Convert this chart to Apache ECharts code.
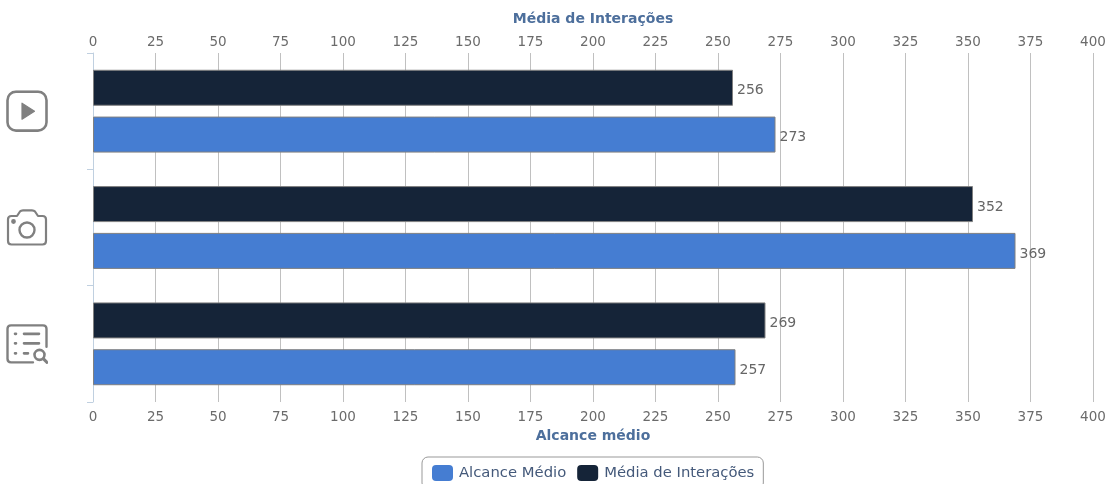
<!DOCTYPE html>
<html>
<head>
<meta charset="utf-8">
<style>html,body{margin:0;padding:0;background:#fff;overflow:hidden}#c{width:1111px;height:484px}</style>
<script src="https://cdn.jsdelivr.net/npm/echarts@6/dist/echarts.min.js"></script>
</head>
<body>
<div id="c"></div>
<script>
const categories = ['Lista', 'Foto', 'Vídeo'];
const alcance = [257, 369, 273];
const interacoes = [269, 352, 256];
const alcanceName = 'Alcance Médio';
const interacoesName = 'Média de Interações';
const topAxisName = 'Média de Interações';
const bottomAxisName = 'Alcance médio';

const svg = s => 'data:image/svg+xml;charset=utf-8,' + encodeURIComponent(
  '<svg xmlns="http://www.w3.org/2000/svg" width="126" height="126" viewBox="0 0 42 42"><g fill="none" stroke="#808080" stroke-width="2.2" stroke-linecap="round" stroke-linejoin="round">' + s + '</g></svg>');
const icons = {
  'Vídeo': svg('<rect x="1.5" y="1.5" width="39" height="39" rx="8.5" stroke-width="2.6"/><path d="M16 13 L28.5 21 L16 29 Z" fill="#808080" stroke-width="1.2"/>'),
  'Foto': svg('<path d="M2 13 Q2 9.5 5.5 9.5 H11 L14 5 Q15 3.8 17 3.8 H26 Q28 3.8 29 5 L32 9.5 H36.5 Q40 9.5 40 13 V34.5 Q40 38 36.5 38 H5.5 Q2 38 2 34.5 Z"/><circle cx="21" cy="23.5" r="7.5" stroke-width="2.4"/><circle cx="7.5" cy="15" r="1.3" fill="#808080"/>'),
  'Lista': svg('<path d="M27 39.5 H5 Q1.5 39.5 1.5 36 V6 Q1.5 2.5 5 2.5 H37 Q40.5 2.5 40.5 6 V24" stroke-width="2.4"/><path d="M18 11 H33 M18 20.5 H33 M18 30.5 H22" stroke-width="2.6"/><path d="M9 11 H10 M9 20.5 H10 M9 30.5 H10" stroke-width="2.6"/><circle cx="33.5" cy="32" r="5" stroke-width="2.6"/><path d="M37.5 36 L41 39.5" stroke-width="3"/>')
};
const rich = {};
categories.forEach((c, i) => {
  rich['i' + i] = { width: 42, height: 42, backgroundColor: { image: icons[c] } };
});

const font = '"DejaVu Sans", sans-serif';
const valueAxis = (position, name, nameGap, labelMargin) => ({
  type: 'value', position, name, nameLocation: 'middle', nameGap,
  min: 0, max: 400, interval: 25,
  nameTextStyle: { color: '#4d6f9c', fontSize: 14, fontWeight: 'bold', fontFamily: font },
  axisLine: { show: false }, axisTick: { show: false },
  axisLabel: { color: '#6b6b6b', fontSize: 13.5, fontFamily: font, margin: labelMargin },
  splitLine: { show: true, lineStyle: { color: '#c0c0c0', width: 1 } }
});
const seriesStyle = { borderColor: '#808080', borderWidth: 1 };
const labelCfg = { show: true, position: 'right', distance: 4, offset: [0, 3], color: '#666', fontSize: 14, fontFamily: font };

const chart = echarts.init(document.getElementById('c'), null, { renderer: 'canvas' });
chart.setOption({
  animation: false,
  backgroundColor: '#fff',
  grid: { left: 93, right: 18, top: 53, bottom: 82, containLabel: false },
  legend: {
    data: [alcanceName, interacoesName],
    left: 422, top: 457, padding: [8, 9, 8, 10],
    borderColor: '#999', borderWidth: 1, borderRadius: 6,
    itemWidth: 21, itemHeight: 16, itemGap: 11,
    icon: 'roundRect',
    textStyle: { color: '#44597a', fontSize: 14.8, fontFamily: font, padding: [2, 0, 0, 1] },
    itemStyle: { borderWidth: 0 }
  },
  xAxis: [valueAxis('bottom', bottomAxisName, 27, 8.5), valueAxis('top', topAxisName, 27, 3.5)],
  yAxis: {
    type: 'category', data: categories,
    axisLine: { show: true, lineStyle: { color: '#c0d0e0', width: 1 } },
    axisTick: { show: true, length: 6, lineStyle: { color: '#c0d0e0' } },
    axisLabel: {
      margin: 45, rich,
      formatter: (v) => '{i' + categories.indexOf(v) + '|}'
    }
  },
  series: [
    { name: interacoesName, type: 'bar', xAxisIndex: 1, data: interacoes, barWidth: 36, barGap: '30%',
      itemStyle: Object.assign({ color: '#152438' }, seriesStyle), label: labelCfg },
    { name: alcanceName, type: 'bar', xAxisIndex: 0, data: alcance, barWidth: 36, barGap: '30%',
      itemStyle: Object.assign({ color: '#457dd2' }, seriesStyle), label: labelCfg }
  ]
});
</script>
</body>
</html>
